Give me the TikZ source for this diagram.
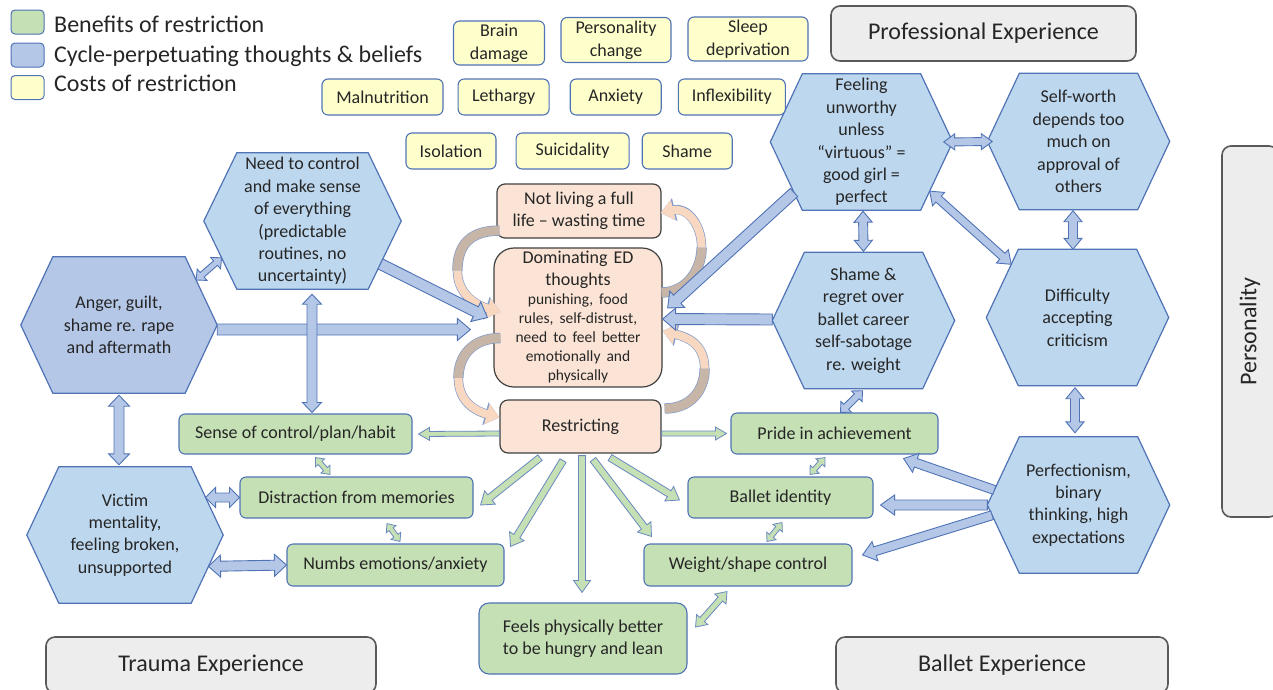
\documentclass[tikz,border=0pt]{standalone}
\usepackage{fontspec}
\setmainfont{Carlito}
\usetikzlibrary{calc,positioning,backgrounds,arrows.meta}

\definecolor{hexblue}{HTML}{BDD7EE}
\definecolor{hexdark}{HTML}{B4C7E7}
\definecolor{lineblue}{HTML}{4F73B5}
\definecolor{bengreen}{HTML}{C5E0B4}
\definecolor{costyellow}{HTML}{FFFFCC}
\definecolor{edpeach}{HTML}{FBE4D5}
\definecolor{curlpeach}{HTML}{F9D8C2}
\definecolor{edback}{HTML}{C7B6A8}
\definecolor{groupgray}{HTML}{EDEDED}
\definecolor{groupline}{HTML}{595959}
\definecolor{txtgray}{HTML}{262626}

\tikzset{blk s/.store in=\blks, blk w/.store in=\blkw, blk l/.store in=\blkl}

% block arrow with one head
\newcommand\onearrow[3][bluearr]{%
  \begin{scope}[#1]
  \path (#2) coordinate (ba) (#3) coordinate (bb);
  \path ($(bb)!\blkl!(ba)$) coordinate (bh);
  \filldraw[#1] ($(ba)!\blks!90:(bb)$) -- ($(bh)!\blks!90:(bb)$) -- ($(bh)!\blkw!90:(bb)$) -- (bb)
    -- ($(bh)!\blkw!-90:(bb)$) -- ($(bh)!\blks!-90:(bb)$) -- ($(ba)!\blks!-90:(bb)$) -- cycle;
  \end{scope}}
% block arrow with two heads
\newcommand\twoarrow[3][bluearr]{%
  \begin{scope}[#1]
  \path (#2) coordinate (ba) (#3) coordinate (bb);
  \path ($(bb)!\blkl!(ba)$) coordinate (bh) ($(ba)!\blkl!(bb)$) coordinate (ha);
  \filldraw[#1] (ba) -- ($(ha)!\blkw!90:(bb)$) -- ($(ha)!\blks!90:(bb)$) -- ($(bh)!\blks!90:(bb)$)
    -- ($(bh)!\blkw!90:(bb)$) -- (bb) -- ($(bh)!\blkw!-90:(bb)$) -- ($(bh)!\blks!-90:(bb)$)
    -- ($(ha)!\blks!-90:(bb)$) -- ($(ha)!\blkw!-90:(bb)$) -- cycle;
  \end{scope}}
% hexagon behind a node
\newcommand\hexback[3][hexblue]{%
  \path ([xshift=#3]#2.north west) coordinate (#2-nw) ([xshift=-#3]#2.north east) coordinate (#2-ne)
        ([xshift=-#3]#2.south east) coordinate (#2-se) ([xshift=#3]#2.south west) coordinate (#2-sw);
  \filldraw[hexline, fill=#1] (#2.west) -- (#2-nw) -- (#2-ne) -- (#2.east) -- (#2-se) -- (#2-sw) -- cycle;}

\begin{document}
\begin{tikzpicture}[x=1pt, y=-1pt,
  every node/.style={text=txtgray},
  legbox/.style={draw=lineblue, line width=1pt, rounded corners=4pt, minimum width=33pt, minimum height=24pt},
  legtext/.style={font=\fontsize{24}{28}\selectfont, anchor=base west, inner sep=0pt},
  cost/.style={draw=lineblue, fill=costyellow, line width=1.1pt, rounded corners=6pt, minimum height=36pt,
               align=center, font=\fontsize{18}{23}\selectfont, inner sep=2pt},
  hexa/.style={minimum width=182pt, minimum height=136pt, align=center, font=\fontsize{18}{22.4}\selectfont, inner sep=0pt},
  edbox/.style={draw=black!75, fill=edpeach, line width=1.2pt, rounded corners=8pt, align=center,
                font=\fontsize{18}{21.5}\selectfont, inner sep=2pt},
  benefit/.style={draw=lineblue, fill=bengreen, line width=1.1pt, rounded corners=6pt, minimum height=41pt,
                  align=center, font=\fontsize{18}{22}\selectfont},
  expbox/.style={draw=groupline, fill=groupgray, line width=1.6pt, rounded corners=9pt, minimum height=56pt,
                 font=\fontsize{24}{28}\selectfont},
  hexline/.style={draw=lineblue, line width=1.2pt},
  bluearr/.style={draw=lineblue, fill=hexdark, line width=0.9pt, blk s=5.5pt, blk w=11pt, blk l=13pt},
  greenarr/.style={draw=lineblue!85, fill=bengreen, line width=0.8pt, blk s=3.5pt, blk w=8.5pt, blk l=12pt},
  curlback/.style={draw=edback, line width=9pt, preaction={draw=lineblue!70, line width=10.4pt}},
  curlfront/.style={draw=curlpeach, line width=8pt, -{Triangle[length=13pt,width=20pt]},
                    preaction={draw=lineblue!70, line width=9.4pt, -{Triangle[length=14.5pt,width=22.5pt]}}}
]
\useasboundingbox (0,0) rectangle (1273,689);
\clip (0,0) rectangle (1273,689);

% legend
\node[legbox, fill=bengreen] (leg1) at (27.5,22) {};
\node[legbox, fill=hexdark, below=8pt of leg1] (leg2) {};
\node[legbox, fill=costyellow, below=7.5pt of leg2] (leg3) {};
\node[legtext] (legt1) at (54,32.5) {Benefits of restriction};
\node[legtext] (legt2) at (54,62.5) {Cycle-perpetuating thoughts \& beliefs};
\node[legtext] (legt3) at (54,91) {Costs of restriction};

% costs of restriction
\node[cost, minimum width=91pt, minimum height=44pt] (brain) at (499,43) {Brain\\damage};
\node[cost, minimum width=110pt, minimum height=45pt] (perso) at (616,40) {Personality\\change};
\node[cost, minimum width=120pt, minimum height=44pt] (sleep) at (748,39) {Sleep\\deprivation};
\node[cost, minimum width=121pt] (maln) at (382.5,97) {Malnutrition};
\node[cost, minimum width=91pt, right=14pt of maln] (leth) {Lethargy};
\node[cost, minimum width=91pt, right=20pt of leth] (anx) {Anxiety};
\node[cost, minimum width=107pt, right=16pt of anx] (infl) {Inflexibility};
\node[cost, minimum width=90pt] (isol) at (451,151) {Isolation};
\node[cost, minimum width=113pt, right=19pt of isol] (suic) {Suicidality};
\node[cost, minimum width=90pt, right=12pt of suic] (shamec) {Shame};

% experience boxes
\node[expbox, minimum width=305pt, minimum height=55pt] (prof) at (983.5,33.5) {Professional Experience};
\node[expbox, minimum width=330pt] (trauma) at (211,665) {Trauma Experience};
\node[expbox, minimum width=332pt] (ballexp) at (1002,665) {Ballet Experience};
\node[expbox, rotate=90, minimum width=371pt] (pers) at (1250,331.5) {Personality};

% thoughts and beliefs
\node[hexa, minimum width=197pt] (need) at (302.5,221) {Need to control\\and make sense\\of everything\\(predictable\\routines, no\\uncertainty)};
\node[hexa, minimum width=196pt] (anger) at (119,325) {Anger, guilt,\\shame re. rape\\and aftermath};
\node[hexa, minimum width=196pt] (victim) at (125,535) {Victim\\mentality,\\feeling broken,\\unsupported};
\node[hexa] (feel) at (861.5,142) {Feeling\\unworthy\\unless\\“virtuous” =\\good girl =\\perfect};
\node[hexa] (selfw) at (1078.5,141.5) {Self-worth\\depends too\\much on\\approval of\\others};
\node[hexa] (shame) at (863.5,320.5) {Shame \&\\regret over\\ballet career\\self-sabotage\\re. weight};
\node[hexa] (diff) at (1077.5,317.5) {Difficulty\\accepting\\criticism};
\node[hexa] (perf) at (1078.5,505) {Perfectionism,\\binary\\thinking, high\\expectations};

% the eating disorder cycle
\node[edbox, minimum width=164pt, minimum height=54pt] (notliving) at (579,211) {Not living a full\\life -- wasting time};
\node[edbox, rounded corners=20pt, text width=164pt, minimum height=139pt] (dom) at (578,317.5)
  {{\fontsize{18}{22}\selectfont Dominating ED\\thoughts\par}{\fontsize{15.5}{19}\selectfont punishing, food\\rules, self-distrust,\\need to feel better\\emotionally and\\physically\par}};
\node[edbox, minimum width=161pt, minimum height=53pt] (restr) at (580.5,426.5) {Restricting};

% benefits of restriction
\node[benefit, minimum width=233pt, minimum height=40pt] (sense) at (295.5,434) {Sense of control/plan/habit};
\node[benefit, minimum width=233pt] (distr) at (356.5,497.5) {Distraction from memories};
\node[benefit, minimum width=217pt, minimum height=42pt] (numbs) at (395.5,565) {Numbs emotions/anxiety};
\node[benefit, minimum width=207pt] (pride) at (834.5,433.5) {Pride in achievement};
\node[benefit, minimum width=185pt] (ballet) at (780.5,497.5) {Ballet identity};
\node[benefit, minimum width=208pt, minimum height=42pt] (weight) at (748,565) {Weight/shape control};
\node[benefit, minimum width=208pt, minimum height=71pt, rounded corners=10pt] (feels) at (583,638.5) {Feels physically better\\to be hungry and lean};

\begin{scope}[on background layer]
\hexback{need}{33pt}
\hexback[hexdark]{anger}{32pt}
\hexback{victim}{32pt}
\hexback{feel}{32pt}
\hexback{selfw}{32pt}
\hexback{shame}{32pt}
\hexback{diff}{32pt}
\hexback{perf}{32pt}
\end{scope}

% curved arrows round the cycle
\draw[curlback] ($(notliving.south west)+(3,-8)$) .. controls +(-30,0) and +(0,-25) .. ++(-42,40) coordinate (cva);
\draw[curlfront] (cva) .. controls +(0,25) and +(-22,-6) .. ($(dom.west)+(7,-5.5)$);
\draw[curlback] ($(dom.east)+(-1,-25)$) .. controls +(25,0) and +(0,22) .. ++(40,-45) coordinate (cvb);
\draw[curlfront] (cvb) .. controls +(0,-25) and +(25,-6) .. ($(notliving.east)+(-1,2)$);
\draw[curlback] ($(dom.west)+(7,20.5)$) .. controls +(-28,0) and +(0,-22) .. ++(-42,40) coordinate (cvc);
\draw[curlfront] (cvc) .. controls +(0,25) and +(-22,-6) .. ($(restr.west)+(0,-9)$);
\draw[curlback] ($(restr.east)+(3,-18)$) .. controls +(26,0) and +(0,22) .. ++(40,-40) coordinate (cvd);
\draw[curlfront] (cvd) .. controls +(0,-25) and +(24,6) .. ($(dom.east)+(0,13.5)$);

% blue arrows
\onearrow{$(need.east)!0.63!(need-se)$}{$(dom.west)+(-6,0)$}
\onearrow{$(anger.east)+(0,4.5)$}{$(dom.west)+(-23,12)$}
\twoarrow[bluearr, blk s=3pt, blk w=7.5pt, blk l=8pt]{$(anger-ne)!0.34!(anger.east)$}{$(need.west)!0.54!(need-sw)$}
\twoarrow[bluearr, blk s=5pt, blk w=9.5pt, blk l=10pt]{$(need.south)+(9.5,5)$}{$(sense.north)+(16.5,-1)$}
\twoarrow[bluearr, blk s=5pt, blk w=10.5pt, blk l=11pt]{$(anger.south)+(0,2)$}{$(victim.north)+(-6,-2)$}
\twoarrow[bluearr, blk s=4.5pt, blk w=10pt, blk l=10pt]{$(victim-ne)!0.45!(victim.east)$}{distr.west}
\twoarrow[bluearr, blk s=5pt, blk w=11pt, blk l=12pt]{$(victim.east)!0.46!(victim-se)$}{numbs.west}
\onearrow{$(feel.west)!0.74!(feel-sw)$}{$(dom.east)+(5,-9.5)$}
\onearrow{$(shame.west)+(0,-1)$}{$(dom.east)+(0,1.5)$}
\twoarrow[bluearr, blk s=4pt, blk w=8pt, blk l=11pt]{$(feel.east)+(-9,0)$}{$(selfw.west)+(5,0)$}
\twoarrow[bluearr, blk s=4.5pt, blk w=9pt, blk l=11pt]{$(feel.south)+(1.5,1)$}{$(shame.north)+(0,-1)$}
\twoarrow[bluearr, blk s=4.5pt, blk w=9pt, blk l=11pt]{$(selfw.south)+(-5.5,1)$}{$(diff.north)+(-4.5,0)$}
\twoarrow[bluearr, blk s=4pt, blk w=9pt, blk l=12pt]{$(feel.east)!0.72!(feel-se)$}{$(diff-nw)!0.22!(diff.west)$}
\twoarrow[bluearr, blk s=4.5pt, blk w=9pt, blk l=11pt]{$(diff.south)+(-2.5,2)$}{$(perf.north)+(-3.5,-4)$}
\twoarrow[bluearr, blk s=3.5pt, blk w=7.5pt, blk l=8pt]{$(shame.south)+(-1,2)$}{$(pride.north)+(6,0)$}
\onearrow[bluearr, blk s=4.5pt, blk w=10pt, blk l=13pt]{$(perf-nw)!0.78!(perf.west)$}{$(pride.south east)+(-35,4)$}
\onearrow[bluearr, blk s=5pt, blk w=10pt, blk l=14pt]{perf.west}{$(ballet.east)+(7,7.5)$}
\onearrow[bluearr, blk s=4.5pt, blk w=10pt, blk l=13pt]{$(perf.west)!0.15!(perf-sw)$}{$(weight.east)+(10,-10)$}

% green arrows
\onearrow[greenarr, blk s=2.5pt, blk w=6.5pt, blk l=11pt]{$(restr.west)+(0,7)$}{$(sense.east)+(6,0)$}
\onearrow[greenarr, blk s=2.5pt, blk w=6.5pt, blk l=11pt]{$(restr.east)+(0,7)$}{$(pride.west)+(-4,0)$}
\onearrow[greenarr]{$(restr.south)+(-40.5,4)$}{$(distr.east)+(7,7.5)$}
\onearrow[greenarr]{$(restr.south)+(-17.5,7)$}{$(numbs.north east)+(6,3)$}
\onearrow[greenarr]{$(restr.south)+(1.5,2)$}{$(feels.north)+(-1,-10)$}
\onearrow[greenarr]{$(restr.south)+(12.5,6)$}{$(weight.north west)+(8,-7)$}
\onearrow[greenarr]{$(restr.south)+(29.5,4)$}{$(ballet.west)+(-8,2.5)$}
\twoarrow[greenarr, blk s=2.5pt, blk w=6pt, blk l=7pt]{$(sense.south)+(20,3)$}{$(distr.north)+(-26.5,-2)$}
\twoarrow[greenarr, blk s=2.5pt, blk w=6pt, blk l=7pt]{$(distr.south)+(30.5,5)$}{$(numbs.north)+(4.5,-2)$}
\twoarrow[greenarr, blk s=2.5pt, blk w=6pt, blk l=7pt]{$(pride.south)+(-9.5,3)$}{$(ballet.north)+(29.5,-2)$}
\twoarrow[greenarr, blk s=2.5pt, blk w=6pt, blk l=7pt]{$(ballet.south)+(1.5,4)$}{$(weight.north)+(19,-2)$}
\twoarrow[greenarr, blk s=3pt, blk w=7.5pt, blk l=10pt]{$(weight.south)+(-21,5)$}{$(feels.east)+(8,-11.5)$}
\end{tikzpicture}
\end{document}
